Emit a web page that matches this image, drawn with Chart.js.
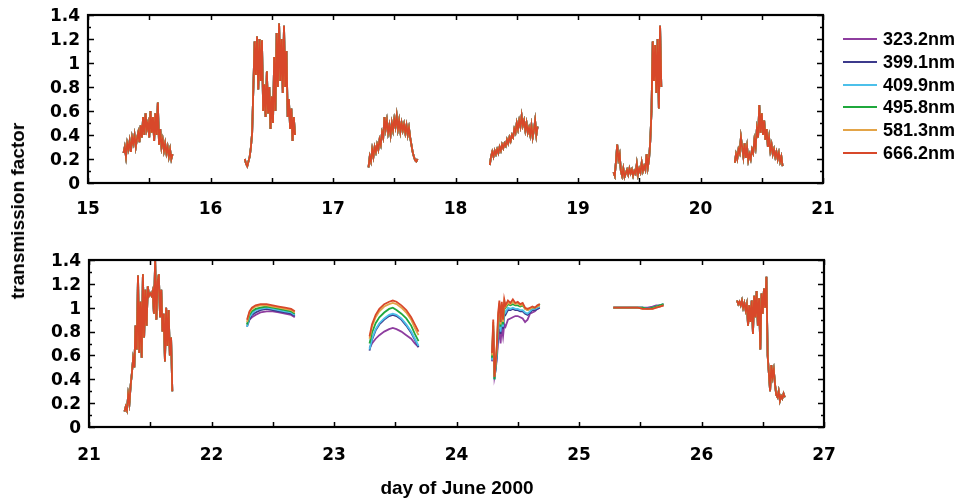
<!DOCTYPE html>
<html>
<head>
<meta charset="utf-8">
<script src="https://cdn.jsdelivr.net/npm/chart.js@4.4.1/dist/chart.umd.min.js"></script>
<style>
  html, body { margin: 0; padding: 0; background: #fff; }
  #wrap { position: relative; width: 960px; height: 498px; overflow: hidden; }
  #topChart { position: absolute; left: 0; top: 0; }
  #bottomChart { position: absolute; left: 0; top: 240px; }
  .title { position: absolute; font: bold 19px "Liberation Sans", Arial, sans-serif; color: #000; white-space: nowrap; }
  #ytitle { left: 18px; top: 211px; transform: translate(-50%, -50%) rotate(-90deg); }
  #xtitle { left: 457px; top: 488px; transform: translate(-50%, -50%); }
  #legend { position: absolute; left: 843px; top: 28px; font: bold 18px "Liberation Sans", Arial, sans-serif; }
  .item { position: relative; height: 22.8px; }
  .item span.line { position: absolute; left: 0; top: 10px; width: 34px; height: 2px; }
  .item span.label { position: absolute; left: 40px; top: 0; line-height: 22px; }
</style>
</head>
<body>
<div id="wrap">
  <canvas id="topChart" width="960" height="240"></canvas>
  <canvas id="bottomChart" width="960" height="258"></canvas>
  <div id="ytitle" class="title">transmission factor</div>
  <div id="xtitle" class="title">day of June 2000</div>
  <div id="legend"></div>
</div>
<script>
const wavelengths = ['323.2nm', '399.1nm', '409.9nm', '495.8nm', '581.3nm', '666.2nm'];
const colors = ['#8e3d9f', '#3c3a8c', '#4cc0ea', '#1fa83c', '#e3a448', '#d8482a'];

// cloudy days: the six channels lie on top of each other, one record per day
// sampled every 0.01 day from the given start
const step = 0.01;
const day15Start = 15.29;
const day15 = [0.25, 0.30, 0.22, 0.33, 0.28, 0.35, 0.26, 0.38, 0.33, 0.40,
  0.30, 0.37, 0.42, 0.34, 0.48, 0.38, 0.55, 0.40, 0.58, 0.45,
  0.50, 0.38, 0.60, 0.42, 0.55, 0.35, 0.58, 0.40, 0.67, 0.32,
  0.45, 0.30, 0.36, 0.27, 0.33, 0.25, 0.30, 0.22, 0.28, 0.20, 0.24];
const day16Start = 16.28;
const day16 = [0.20, 0.16, 0.14, 0.18, 0.22, 0.30, 0.42, 0.80, 1.18, 0.90,
  1.22, 0.78, 1.20, 0.85, 1.19, 0.60, 0.82, 0.55, 0.93, 0.58,
  0.80, 0.45, 0.72, 0.50, 1.05, 0.60, 1.25, 0.80, 1.33, 0.85,
  1.20, 0.75, 1.31, 0.80, 1.10, 0.55, 0.70, 0.45, 0.62, 0.35, 0.55, 0.40];
const day17Start = 17.29;
const day17 = [0.13, 0.22, 0.18, 0.28, 0.22, 0.30, 0.26, 0.32, 0.28, 0.36,
  0.32, 0.42, 0.38, 0.55, 0.45, 0.52, 0.42, 0.48, 0.40, 0.50,
  0.44, 0.53, 0.47, 0.56, 0.45, 0.52, 0.43, 0.50, 0.44, 0.49,
  0.42, 0.48, 0.40, 0.46, 0.38, 0.32, 0.26, 0.22, 0.19, 0.18, 0.20];
const day18Start = 18.28;
const day18 = [0.15, 0.22, 0.26, 0.22, 0.27, 0.24, 0.28, 0.25, 0.30, 0.27,
  0.32, 0.29, 0.33, 0.31, 0.36, 0.33, 0.38, 0.35, 0.40, 0.38,
  0.45, 0.42, 0.50, 0.45, 0.52, 0.47, 0.56, 0.48, 0.52, 0.44,
  0.50, 0.42, 0.46, 0.40, 0.48, 0.38, 0.44, 0.52, 0.40, 0.47];
const day19Start = 19.29;
const day19 = [0.09, 0.06, 0.18, 0.32, 0.20, 0.24, 0.10, 0.06, 0.12, 0.05,
  0.08, 0.11, 0.07, 0.12, 0.08, 0.11, 0.06, 0.10, 0.08, 0.16,
  0.07, 0.12, 0.09, 0.17, 0.10, 0.14, 0.11, 0.24, 0.13, 0.20,
  0.35, 0.60, 1.18, 0.85, 1.15, 0.75, 1.20, 0.62, 1.31, 0.80];
const day20Start = 20.28;
const day20 = [0.17, 0.24, 0.20, 0.28, 0.25, 0.38, 0.30, 0.22, 0.33, 0.21,
  0.30, 0.19, 0.24, 0.20, 0.28, 0.25, 0.36, 0.30, 0.45, 0.38,
  0.65, 0.42, 0.58, 0.40, 0.52, 0.36, 0.45, 0.30, 0.38, 0.27,
  0.32, 0.24, 0.28, 0.22, 0.26, 0.20, 0.25, 0.18, 0.22, 0.14];
const day21Start = 21.29;
const day21 = [0.13, 0.17, 0.14, 0.27, 0.20, 0.35, 0.45, 0.57, 0.50, 0.85,
  0.65, 1.27, 0.62, 1.05, 0.58, 1.28, 0.75, 1.15, 0.85, 1.18,
  1.10, 1.12, 1.10, 1.14, 0.95, 1.40, 0.90, 1.22, 1.28, 0.92,
  1.15, 0.80, 0.95, 0.55, 1.00, 0.68, 0.98, 0.60, 0.75, 0.30];
const day26Start = 26.29;
const day26 = [1.06, 1.03, 1.05, 1.02, 1.06, 1.00, 1.04, 0.98, 1.03, 0.85,
  1.02, 0.88, 1.06, 0.78, 1.10, 0.92, 1.14, 0.85, 1.08, 0.65,
  1.12, 0.95, 1.16, 1.00, 1.26, 0.60, 0.45, 0.30, 0.52, 0.42,
  0.48, 0.36, 0.27, 0.25, 0.30, 0.22, 0.26, 0.24, 0.28, 0.25];

// clear days: channels separate, rows in wavelength order
const day22Times = [22.29, 22.31, 22.33, 22.36, 22.40, 22.45, 22.50, 22.55, 22.60, 22.65, 22.68];
const day22Values = [
  [0.86, 0.90, 0.92, 0.94, 0.96, 0.97, 0.97, 0.96, 0.95, 0.94, 0.92],
  [0.84, 0.90, 0.94, 0.96, 0.98, 0.99, 0.98, 0.97, 0.96, 0.95, 0.93],
  [0.84, 0.92, 0.95, 0.98, 0.99, 1.00, 0.99, 0.98, 0.97, 0.96, 0.94],
  [0.86, 0.94, 0.97, 0.99, 1.00, 1.01, 1.00, 0.99, 0.98, 0.97, 0.95],
  [0.88, 0.96, 0.99, 1.01, 1.02, 1.02, 1.01, 1.00, 0.99, 0.98, 0.96],
  [0.90, 0.97, 1.00, 1.02, 1.03, 1.03, 1.02, 1.01, 1.00, 0.99, 0.97]
];
const day23Times = [23.29, 23.31, 23.34, 23.37, 23.41, 23.45, 23.48, 23.51, 23.55, 23.59, 23.63, 23.66, 23.69];
const day23Values = [
  [0.66, 0.70, 0.74, 0.77, 0.80, 0.82, 0.83, 0.82, 0.80, 0.77, 0.74, 0.70, 0.67],
  [0.64, 0.73, 0.81, 0.86, 0.90, 0.93, 0.94, 0.93, 0.90, 0.85, 0.79, 0.73, 0.67],
  [0.65, 0.74, 0.82, 0.87, 0.91, 0.94, 0.95, 0.94, 0.91, 0.86, 0.80, 0.74, 0.68],
  [0.70, 0.79, 0.87, 0.92, 0.96, 0.99, 1.00, 0.98, 0.95, 0.91, 0.85, 0.78, 0.72],
  [0.74, 0.84, 0.92, 0.97, 1.01, 1.03, 1.04, 1.03, 1.00, 0.96, 0.90, 0.83, 0.77],
  [0.76, 0.86, 0.94, 0.99, 1.03, 1.05, 1.06, 1.05, 1.02, 0.98, 0.92, 0.86, 0.80]
];
const day24Times = [24.29, 24.30, 24.31, 24.32, 24.33, 24.34, 24.35, 24.36, 24.37, 24.38, 24.39, 24.40, 24.42,
  24.44, 24.46, 24.48, 24.50, 24.52, 24.54, 24.56, 24.58, 24.60, 24.62, 24.64, 24.66, 24.68];
const day24Values = [
  [0.55, 0.75, 0.42, 0.48, 0.58, 0.72, 0.82, 0.70, 0.84, 0.76, 0.86, 0.84, 0.90, 0.91, 0.92, 0.93, 0.93, 0.92, 0.91, 0.88, 0.90, 0.95, 0.96, 0.97, 0.99, 1.00],
  [0.56, 0.80, 0.40, 0.50, 0.60, 0.84, 0.93, 0.78, 0.92, 0.82, 0.96, 0.94, 0.98, 0.98, 0.99, 0.98, 0.98, 0.97, 0.97, 0.95, 0.94, 0.96, 0.98, 0.98, 0.99, 1.00],
  [0.56, 0.82, 0.40, 0.50, 0.62, 0.86, 0.95, 0.80, 0.94, 0.84, 0.98, 0.96, 1.00, 0.99, 1.00, 0.99, 0.99, 0.98, 0.98, 0.96, 0.95, 0.97, 0.99, 0.99, 1.00, 1.01],
  [0.58, 0.85, 0.40, 0.52, 0.65, 0.90, 1.02, 0.84, 1.01, 0.86, 1.03, 1.00, 1.03, 1.02, 1.03, 1.02, 1.02, 1.01, 1.02, 0.99, 0.98, 0.99, 1.00, 1.00, 1.01, 1.03],
  [0.60, 0.88, 0.42, 0.55, 0.68, 0.93, 1.04, 0.86, 1.03, 0.88, 1.05, 1.01, 1.04, 1.03, 1.05, 1.03, 1.04, 1.02, 1.03, 0.99, 0.98, 0.99, 1.00, 1.00, 1.01, 1.02],
  [0.62, 0.90, 0.42, 0.55, 0.70, 0.95, 1.06, 0.88, 1.05, 0.90, 1.07, 1.02, 1.06, 1.04, 1.07, 1.04, 1.05, 1.03, 1.04, 1.00, 0.99, 1.00, 1.01, 1.00, 1.02, 1.03]
];
const day25Times = [25.28, 25.35, 25.42, 25.48, 25.52, 25.56, 25.60, 25.63, 25.66, 25.69];
const day25Values = [
  [1.00, 1.00, 1.00, 1.00, 1.00, 1.00, 1.01, 1.02, 1.02, 1.03],
  [1.00, 1.00, 1.00, 1.00, 1.00, 0.99, 1.00, 1.01, 1.02, 1.02],
  [1.00, 1.00, 1.00, 1.00, 1.00, 0.99, 1.00, 1.01, 1.02, 1.03],
  [1.00, 1.00, 1.00, 1.00, 1.00, 0.99, 1.00, 1.01, 1.02, 1.03],
  [1.00, 1.00, 1.00, 1.00, 0.99, 0.99, 0.99, 1.00, 1.01, 1.02],
  [1.00, 1.00, 1.00, 1.00, 0.99, 0.99, 0.99, 1.00, 1.01, 1.02]
];

const xTicksTop = [15, 21];
const xTicksBottom = [21, 27];
const yRange = [0, 1.4];

function sampled(start, values) {
  return values.map((v, k) => ({ x: +(start + k * step).toFixed(3), y: v }));
}
function paired(times, values) {
  return times.map((t, k) => ({ x: t, y: values[k] }));
}
function joinSegments(segments) {
  const out = [];
  segments.forEach(seg => {
    seg.forEach(p => out.push(p));
    out.push({ x: seg[seg.length - 1].x + 0.005, y: null });
  });
  return out;
}

function topData(i) {
  return joinSegments([
    sampled(day15Start, day15), sampled(day16Start, day16), sampled(day17Start, day17),
    sampled(day18Start, day18), sampled(day19Start, day19), sampled(day20Start, day20)
  ]);
}
function bottomData(i) {
  return joinSegments([
    sampled(day21Start, day21),
    paired(day22Times, day22Values[i]),
    paired(day23Times, day23Values[i]),
    paired(day24Times, day24Values[i]),
    paired(day25Times, day25Values[i]),
    sampled(day26Start, day26)
  ]);
}

// frame and inward tick marks on all four sides
const frameTicks = {
  id: 'frameTicks',
  afterDatasetsDraw(chart) {
    const { ctx, chartArea: a, scales: { x, y } } = chart;
    ctx.save();
    ctx.strokeStyle = '#000';
    ctx.lineWidth = 1.5;
    ctx.beginPath();
    const xv = x.ticks.map(t => t.value);
    const yv = y.ticks.map(t => t.value);
    const xs = [];
    xv.forEach((v, k) => { xs.push(v); if (k < xv.length - 1) xs.push((v + xv[k + 1]) / 2); });
    xs.forEach(v => {
      const px = Math.round(x.getPixelForValue(v)) + 0.5;
      ctx.moveTo(px, a.bottom); ctx.lineTo(px, a.bottom - 5);
      ctx.moveTo(px, a.top); ctx.lineTo(px, a.top + 5);
    });
    yv.forEach((v, k) => {
      const py = Math.round(y.getPixelForValue(v)) + 0.5;
      ctx.moveTo(a.left, py); ctx.lineTo(a.left + 6, py);
      ctx.moveTo(a.right, py); ctx.lineTo(a.right - 6, py);
      if (k < yv.length - 1) {
        const pm = Math.round(y.getPixelForValue((v + yv[k + 1]) / 2)) + 0.5;
        ctx.moveTo(a.left, pm); ctx.lineTo(a.left + 3, pm);
        ctx.moveTo(a.right, pm); ctx.lineTo(a.right - 3, pm);
      }
    });
    ctx.stroke();
    ctx.lineWidth = 2.2;
    ctx.strokeRect(a.left, a.top, a.right - a.left, a.bottom - a.top);
    ctx.restore();
  }
};

const tickFont = { family: '"DejaVu Sans", sans-serif', size: 17, weight: 'bold' };

function makeChart(id, range, dataFn, pad, axisH, xPad) {
  return new Chart(document.getElementById(id), {
    type: 'line',
    data: {
      datasets: wavelengths.map((w, i) => ({
        label: w,
        data: dataFn(i),
        borderColor: colors[i],
        borderWidth: 1.8,
        pointRadius: 0,
        tension: 0,
        spanGaps: false,
        order: wavelengths.length - 1 - i
      }))
    },
    options: {
      responsive: false,
      animation: false,
      events: [],
      layout: { padding: pad },
      scales: {
        x: {
          type: 'linear',
          min: range[0],
          max: range[1],
          grid: { display: false, drawTicks: false },
          border: { display: false },
          ticks: { stepSize: 1, color: '#000', font: tickFont, padding: xPad, maxRotation: 0 },
          afterFit: s => { s.height = axisH; s.paddingLeft = 0; s.paddingRight = 0; }
        },
        y: {
          min: yRange[0],
          max: yRange[1],
          grid: { display: false, drawTicks: false },
          border: { display: false },
          ticks: {
            stepSize: 0.2, color: '#000', font: tickFont, padding: 8, labelOffset: 1.5,
            callback: v => String(+v.toFixed(1))
          },
          afterFit: s => { s.width = 60; s.paddingTop = 0; s.paddingBottom = 0; }
        }
      },
      plugins: { legend: { display: false }, tooltip: { enabled: false } }
    },
    plugins: [frameTicks]
  });
}

// top: chart area 88..823 x 15..183 ; bottom: 89..824 x 20..187 (within its canvas)
makeChart('topChart', xTicksTop, topData, { left: 28, right: 137, top: 15, bottom: 22 }, 35, 16);
makeChart('bottomChart', xTicksBottom, bottomData, { left: 29, right: 136, top: 20, bottom: 36 }, 35, 18);

const legend = document.getElementById('legend');
wavelengths.forEach((w, i) => {
  const item = document.createElement('div');
  item.className = 'item';
  item.innerHTML = '<span class="line" style="background:' + colors[i] + '"></span><span class="label">' + w + '</span>';
  legend.appendChild(item);
});
</script>
</body>
</html>
